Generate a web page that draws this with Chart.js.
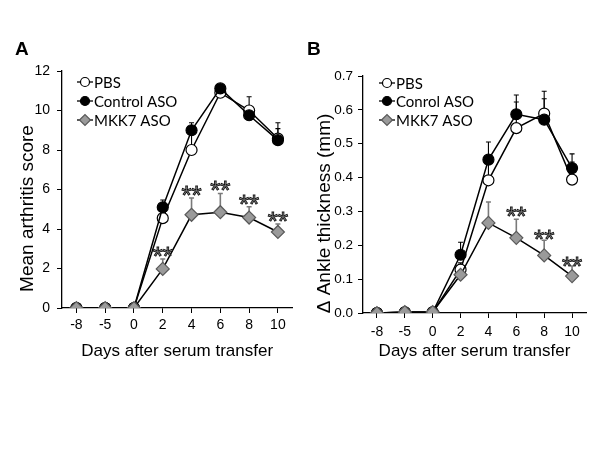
<!DOCTYPE html>
<html><head><meta charset="utf-8">
<script src="https://cdn.jsdelivr.net/npm/chart.js@4/dist/chart.umd.min.js"></script>
<style>
body{margin:0;background:#fff;width:600px;height:450px;position:relative;overflow:hidden}
.panel{position:absolute;top:0;width:300px;height:370px}
.lbl{position:absolute;font:bold 19px "Liberation Sans",Arial,sans-serif;color:#000;line-height:1}
</style></head><body>
<div class="panel" style="left:0"><canvas id="cA" width="300" height="370"></canvas></div>
<div class="panel" style="left:300px"><canvas id="cB" width="300" height="370"></canvas></div>
<div class="lbl" style="left:15px;top:39px">A</div>
<div class="lbl" style="left:307px;top:39px">B</div>
<script>
// ---- data ----
const days = ['-8','-5','0','2','4','6','8','10'];

const pbsA   = [0,0,0,4.55,8.0,10.9,10.0,8.58];
const ctrlA  = [0,0,0,5.1,9.0,11.12,9.76,8.5];
const mkkA   = [0,0,0,1.98,4.72,4.85,4.58,3.85];
const pbsErrA  = [0,0,0,0.35,0.9,0.2,0.7,0.5];
const ctrlErrA = [0,0,0,0.37,0.38,0.15,0.35,0.88];
const mkkErrA  = [0,0,0,0.5,0.85,0.95,0.55,0.4];
const starsA   = [null,null,null,2.95,6.05,6.3,5.55,4.72];
const legendA  = ['PBS','Control ASO','MKK7 ASO'];

const pbsB   = [0,0.002,0.002,0.128,0.392,0.546,0.589,0.394];
const ctrlB  = [0,0.002,0.002,0.172,0.453,0.587,0.571,0.428];
const mkkB   = [0,0.003,0.003,0.113,0.266,0.222,0.170,0.109];
const pbsErrB  = [0,0,0,0.02,0.05,0.077,0.066,0.052];
const ctrlErrB = [0,0,0,0.037,0.052,0.057,0.062,0.042];
const mkkErrB  = [0,0,0,0.015,0.062,0.055,0.045,0.03];
const starsB   = [null,null,null,null,null,0.303,0.236,0.158];
const legendB  = ['PBS','Conrol ASO','MKK7 ASO'];

const FONT = '"Liberation Sans", Arial, sans-serif';
Chart.defaults.font.family = FONT;
Chart.defaults.color = '#000';

const STYLES = [
  {pointStyle:'circle', backgroundColor:'#ffffff', pointBorderColor:'#000', radius:5.5, err:'#000'},
  {pointStyle:'circle', backgroundColor:'#000000', pointBorderColor:'#000', radius:5.5, err:'#000'},
  {pointStyle:'rectRot', backgroundColor:'#9a9a9a', pointBorderColor:'#5a5a5a', radius:6.5, err:'#7a7a7a'}
];

const extrasPlugin = {
  id: 'extras',
  beforeDatasetsDraw(chart, args, opts) {
    const ctx = chart.ctx, x = chart.scales.x, y = chart.scales.y;
    ctx.save();
    opts.errors.forEach((errs, di) => {
      const ds = chart.data.datasets[di];
      ctx.strokeStyle = STYLES[di].err;
      ctx.lineWidth = di === 2 ? 1.6 : 1.1;
      errs.forEach((e, i) => {
        if (!e) return;
        const px = x.getPixelForValue(i);
        const py0 = y.getPixelForValue(ds.data[i]);
        const py1 = y.getPixelForValue(ds.data[i] + e);
        ctx.beginPath();
        ctx.moveTo(px, py0); ctx.lineTo(px, py1);
        ctx.moveTo(px - 2.5, py1); ctx.lineTo(px + 2.5, py1);
        ctx.stroke();
      });
    });
    ctx.restore();
  },
  afterDatasetsDraw(chart, args, opts) {
    const ctx = chart.ctx, x = chart.scales.x, y = chart.scales.y, ca = chart.chartArea;
    ctx.save();
    // y axis title
    ctx.save();
    ctx.translate(opts.ytx, (ca.top + ca.bottom) / 2 + 19);
    ctx.rotate(-Math.PI / 2);
    ctx.font = '19px ' + FONT;
    ctx.fillStyle = '#000';
    ctx.textAlign = 'center';
    ctx.textBaseline = 'middle';
    ctx.fillText(opts.ytitle, 0, 0);
    ctx.restore();
    // significance stars
    ctx.font = '26px ' + FONT;
    ctx.textAlign = 'center';
    ctx.textBaseline = 'alphabetic';
    ctx.fillStyle = '#9a9a9a';
    ctx.strokeStyle = '#111';
    ctx.lineWidth = 0.9;
    opts.stars.forEach((s, i) => {
      if (s === null) return;
      const px = x.getPixelForValue(i), py = y.getPixelForValue(s) + 15;
      ctx.fillText('**', px, py);
      ctx.strokeText('**', px, py);
    });
    // legend
    const lx = ca.left + opts.legend.dx;
    opts.legend.labels.forEach((t, k) => {
      const ly = ca.top + opts.legend.dy[k];
      ctx.strokeStyle = '#000'; ctx.lineWidth = 1.3;
      ctx.beginPath(); ctx.moveTo(lx - 8, ly); ctx.lineTo(lx + 8, ly); ctx.stroke();
      const st = STYLES[k];
      ctx.fillStyle = st.backgroundColor; ctx.strokeStyle = st.pointBorderColor; ctx.lineWidth = 1.2;
      Chart.helpers.drawPoint(ctx, {pointStyle: st.pointStyle, radius: st.radius - 1, borderWidth: 1.2, rotation: 0}, lx, ly);
      ctx.fillStyle = '#000';
      ctx.font = '15px Lato, "Open Sans", sans-serif';
      ctx.textAlign = 'left'; ctx.textBaseline = 'middle';
      ctx.fillText(t, lx + 9, ly + 1);
    });
    ctx.restore();
  }
};

function makeChart(id, series, errs, stars, legend, ytitle, yopts, geo) {
  const datasets = series.map((d, k) => ({
    label: legend.labels[k],
    data: d,
    borderColor: '#000',
    borderWidth: 1.5,
    pointStyle: STYLES[k].pointStyle,
    pointRadius: STYLES[k].radius,
    pointHoverRadius: STYLES[k].radius,
    pointBackgroundColor: STYLES[k].backgroundColor,
    pointBorderColor: STYLES[k].pointBorderColor,
    pointBorderWidth: 1.2,
    tension: 0,
    order: 3 - k
  }));
  return new Chart(document.getElementById(id), {
    type: 'line',
    data: {labels: days, datasets},
    plugins: [extrasPlugin],
    options: {
      responsive: false,
      animation: false,
      layout: {padding: {top: geo.top, right: geo.right, left: 0, bottom: 0}},
      plugins: {
        legend: {display: false},
        tooltip: {enabled: false},
        extras: {errors: errs, stars, legend, ytitle, ytx: geo.ytx}
      },
      scales: {
        x: {
          type: 'category',
          offset: true,
          grid: {drawOnChartArea: false, drawTicks: true, tickLength: 5, color: '#000', offset: false},
          border: {display: true, color: '#000', width: 1.3},
          ticks: {font: {size: 14}, padding: geo.xpad, color: '#000', maxRotation: 0, autoSkip: false},
          title: {display: true, text: 'Days after serum transfer', font: {size: 17}, color: '#000', padding: {top: 0, bottom: geo.xtpad}},
          afterFit(s) { s.height = 370 - geo.bottom; }
        },
        y: Object.assign({
          grid: {drawOnChartArea: false, drawTicks: true, tickLength: 5, color: '#000'},
          border: {display: true, color: '#000', width: 1.3},
          title: {display: false},
          afterFit(s) { s.width = geo.left; }
        }, yopts)
      }
    }
  });
}

makeChart('cA', [pbsA, ctrlA, mkkA], [pbsErrA, ctrlErrA, mkkErrA], starsA,
  {labels: legendA, dx: 23, dy: [11, 30, 49]}, 'Mean arthritis score',
  {min: 0, max: 12,
   ticks: {stepSize: 2, font: {size: 14}, padding: 7, color: '#000'}},
  {left: 62, top: 71, right: 6, bottom: 308, xpad: 4, xtpad: 8, ytx: 28});

makeChart('cB', [pbsB, ctrlB, mkkB], [pbsErrB, ctrlErrB, mkkErrB], starsB,
  {labels: legendB, dx: 24, dy: [7, 25, 44]}, 'Δ Ankle thickness (mm)',
  {min: 0, max: 0.7,
   ticks: {stepSize: 0.1, font: {size: 13.5}, padding: 5, color: '#000', callback: v => Number(v).toFixed(1)}},
  {left: 63, top: 76, right: 14, bottom: 313, xpad: 6, xtpad: 8, ytx: 25});
</script>
</body></html>
